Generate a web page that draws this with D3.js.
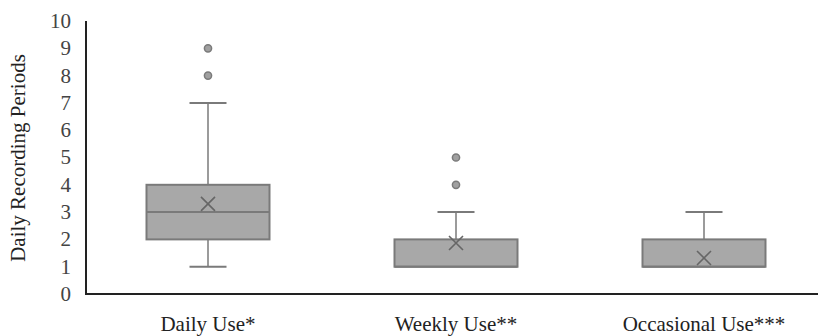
<!DOCTYPE html>
<html><head><meta charset="utf-8">
<script src="https://cdn.jsdelivr.net/npm/d3@7"></script>
<style>body{margin:0;background:#fff}svg{display:block}</style>
</head><body><svg id="c" width="818" height="336"></svg>
<script>
const categories = ["Daily Use*", "Weekly Use**", "Occasional Use***"];
const whiskerLow = [1, 1, 1];
const q1 = [2, 1, 1];
const median = [3, 1, 1];
const q3 = [4, 2, 2];
const whiskerHigh = [7, 3, 3];
const means = [3.3, 1.87, 1.32];
const outliers = [[8, 9], [4, 5], []];
const yTicks = [0,1,2,3,4,5,6,7,8,9,10];
const yLabel = "Daily Recording Periods";

const FONT = "'Liberation Serif', 'Times New Roman', serif";
const svg = d3.select("#c");
const x = d3.scaleBand().domain(categories).range([84, 828]).padding(0);
const y = d3.scaleLinear().domain([0, 10]).range([294, 21]);
const boxW = 123, capW = 37;
const stroke = "#7a7a7a", fill = "#a8a8a8";

svg.selectAll(".yt").data(yTicks).enter().append("text")
  .attr("x", 71).attr("y", d => y(d)).attr("dy", "0.33em")
  .attr("text-anchor", "end").attr("font-size", 21).attr("font-family", FONT).attr("fill", "#444")
  .text(d => d);
svg.append("text").attr("transform", "translate(25,158) rotate(-90)")
  .attr("text-anchor", "middle").attr("font-size", 21).attr("font-family", FONT).attr("fill", "#222").text(yLabel);

const g = svg.selectAll(".b").data(categories).enter().append("g");
const cx = (d) => x(d) + x.bandwidth()/2;
g.each(function(d, i){
  const s = d3.select(this); const c = cx(d);
  s.append("line").attr("x1", c).attr("x2", c).attr("y1", y(q3[i])).attr("y2", y(whiskerHigh[i])).attr("stroke", stroke).attr("stroke-width", 1.5);
  s.append("line").attr("x1", c).attr("x2", c).attr("y1", y(q1[i])).attr("y2", y(whiskerLow[i])).attr("stroke", stroke).attr("stroke-width", 1.5);
  s.append("line").attr("x1", c-capW/2).attr("x2", c+capW/2).attr("y1", y(whiskerHigh[i])).attr("y2", y(whiskerHigh[i])).attr("stroke", stroke).attr("stroke-width", 2);
  if (whiskerLow[i] < q1[i]) s.append("line").attr("x1", c-capW/2).attr("x2", c+capW/2).attr("y1", y(whiskerLow[i])).attr("y2", y(whiskerLow[i])).attr("stroke", stroke).attr("stroke-width", 2);
  s.append("rect").attr("x", c-boxW/2).attr("width", boxW).attr("y", y(q3[i])).attr("height", y(q1[i]) - y(q3[i]))
    .attr("fill", fill).attr("stroke", stroke).attr("stroke-width", 2);
  s.append("line").attr("x1", c-boxW/2).attr("x2", c+boxW/2).attr("y1", y(median[i])).attr("y2", y(median[i])).attr("stroke", stroke).attr("stroke-width", 2);
  const m = y(means[i]), h = 7;
  s.append("path").attr("d", `M${c-h},${m-h}L${c+h},${m+h}M${c+h},${m-h}L${c-h},${m+h}`).attr("stroke", "#666").attr("stroke-width", 1.6).attr("fill", "none");
  s.selectAll("circle").data(outliers[i]).enter().append("circle")
    .attr("cx", c).attr("cy", v => y(v)).attr("r", 3.6).attr("fill", "#a0a0a0").attr("stroke", "#7a7a7a").attr("stroke-width", 1.5);
  s.append("text").attr("x", c).attr("y", 331).attr("text-anchor", "middle").attr("font-size", 21).attr("font-family", FONT).attr("fill", "#222").text(d);
});

svg.append("line").attr("x1", 86).attr("x2", 86).attr("y1", y(10)).attr("y2", y(0)+1).attr("stroke", "#222").attr("stroke-width", 2);
svg.append("line").attr("x1", 85).attr("x2", 818).attr("y1", y(0)).attr("y2", y(0)).attr("stroke", "#222").attr("stroke-width", 2);
</script></body></html>
